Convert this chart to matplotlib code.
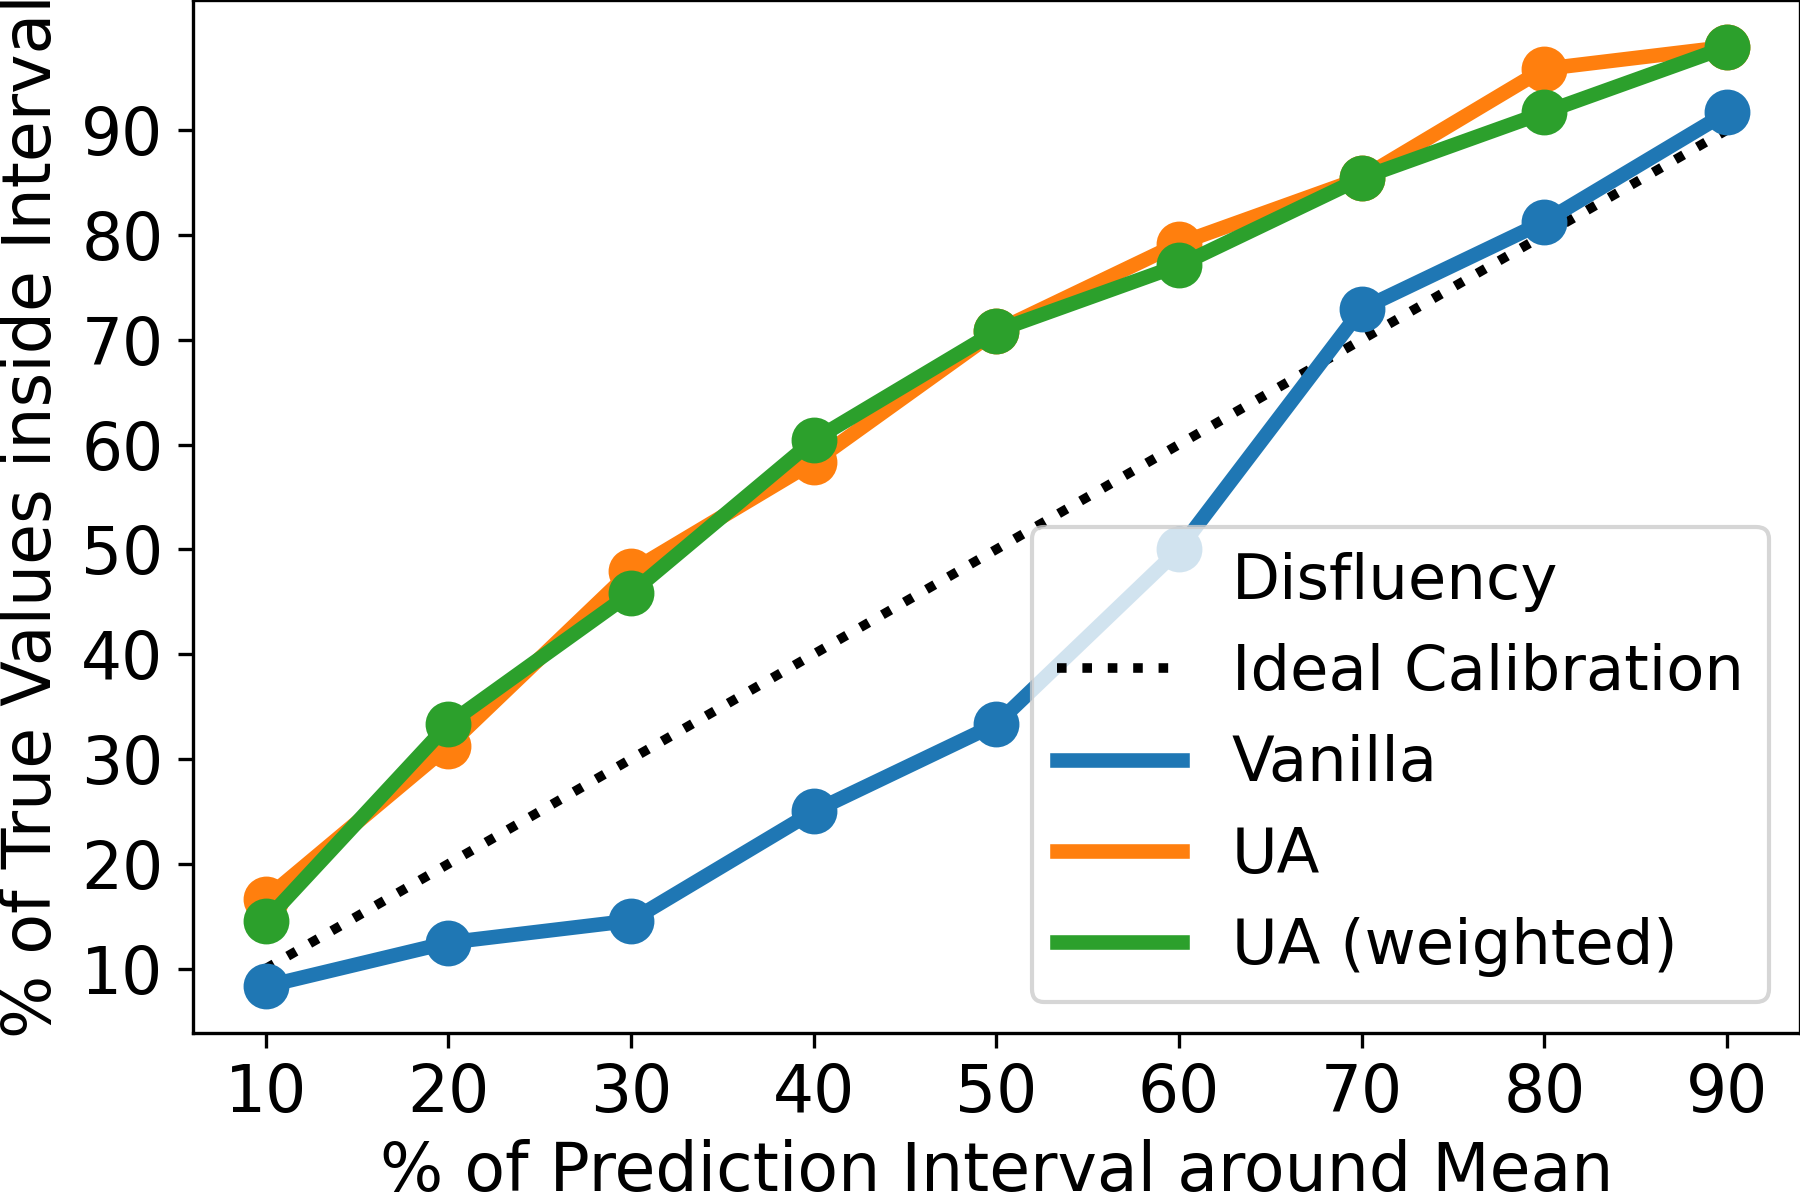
import matplotlib
matplotlib.use('Agg')
import matplotlib.pyplot as plt

intervals = [10, 20, 30, 40, 50, 60, 70, 80, 90]
ideal = [10, 20, 30, 40, 50, 60, 70, 80, 90]
vanilla = [8.33, 12.5, 14.58, 25.0, 33.33, 50.0, 72.92, 81.25, 91.67]
ua = [16.67, 31.25, 47.92, 58.33, 70.83, 79.17, 85.42, 95.83, 97.92]
ua_weighted = [14.58, 33.33, 45.83, 60.42, 70.83, 77.08, 85.42, 91.67, 97.92]

fig = plt.figure(figsize=(6, 4), dpi=300)
ax = fig.add_axes([0.107, 0.139, 0.893, 0.861])

ax.plot([], [], ' ', label='Disfluency')
ax.plot(intervals, ideal, ':', color='black', lw=2.3, label='Ideal Calibration')

series = [(vanilla, '#1f77b4', 'Vanilla'),
          (ua, '#ff7f0e', 'UA'),
          (ua_weighted, '#2ca02c', 'UA (weighted)')]
for vals, col, name in series:
    ax.plot(intervals, vals, '-', color=col, lw=3.5, label=name)
    ax.plot(intervals, vals, 'o', color=col, ms=10)

ax.set_xticks(intervals)
ax.set_yticks([10, 20, 30, 40, 50, 60, 70, 80, 90])
ax.tick_params(labelsize=15.5)
ax.set_xlabel('% of Prediction Interval around Mean', fontsize=16, labelpad=3)
ax.set_ylabel('% of True Values inside Interval', fontsize=16)
ax.legend(loc='lower right', fontsize=15)

fig.savefig('out.png', dpi=300)
